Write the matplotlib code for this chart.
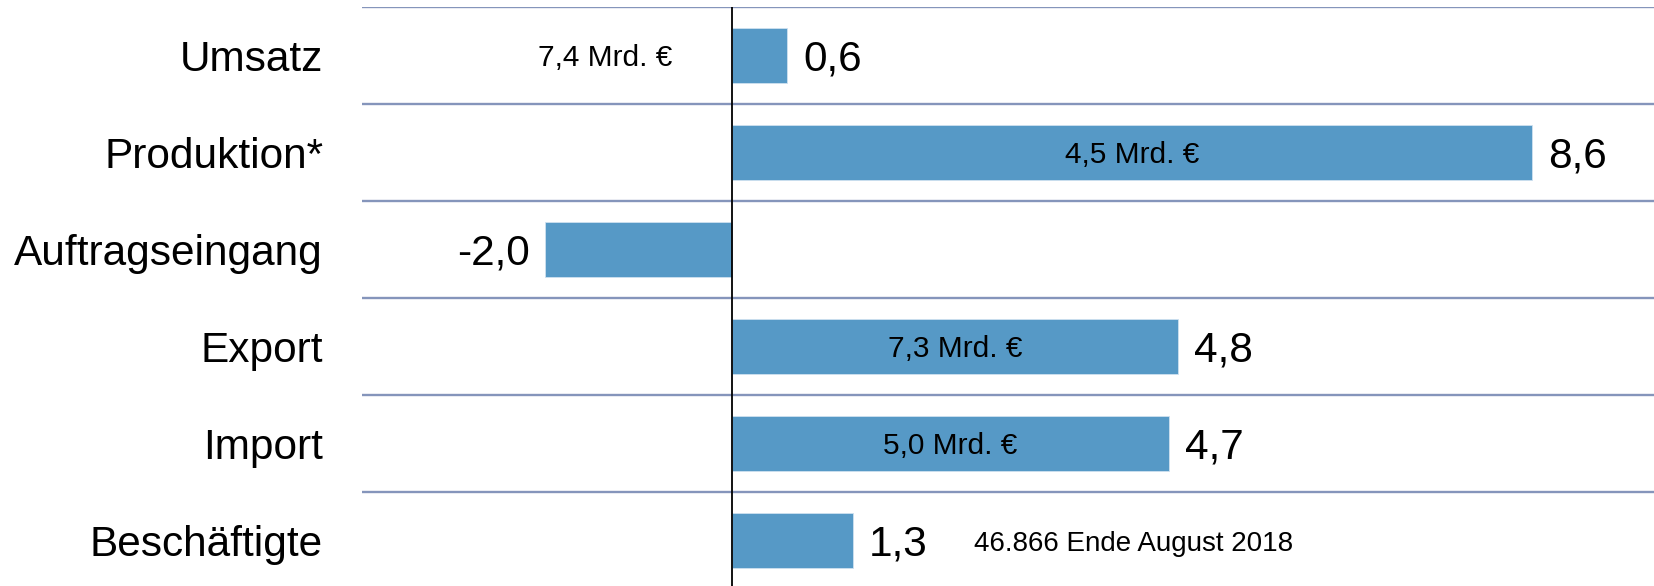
import matplotlib.pyplot as plt

plt.rcParams['font.family'] = ['Liberation Sans', 'DejaVu Sans']

# Veränderung in % gegenüber Vorjahr
categories = ['Umsatz', 'Produktion*', 'Auftragseingang', 'Export', 'Import', 'Beschäftigte']
values = [0.6, 8.6, -2.0, 4.8, 4.7, 1.3]
value_labels = ['0,6', '8,6', '-2,0', '4,8', '4,7', '1,3']
notes = ['7,4 Mrd. €', '4,5 Mrd. €', '', '7,3 Mrd. €', '5,0 Mrd. €', '46.866 Ende August 2018']

bar_color = '#5699C6'
grid_color = '#8595BB'

fig = plt.figure(figsize=(16.54, 5.86), dpi=100)
ax = fig.add_axes([362 / 1654, -3 / 586, 1292 / 1654, 582 / 586])

y = list(range(len(categories)))
ax.barh(y, values, height=0.565, color=bar_color, edgecolor='#cfe1f0', linewidth=0.6, zorder=2)

ax.set_xlim(-3.97, 9.91)
ax.set_ylim(len(categories) - 0.5, -0.5)

# Trennlinien zwischen den Zeilen
for b in range(len(categories) + 1):
    ax.axhline(b - 0.5, color=grid_color, linewidth=1.7, zorder=1)
ax.axvline(0, color='black', linewidth=1.3, zorder=3)

ax.set_yticks(y)
ax.set_yticklabels(categories, fontsize=30.5)
ax.tick_params(axis='y', length=0, pad=28)
ax.set_xticks([])
for s in ax.spines.values():
    s.set_visible(False)

# Werte an den Balkenenden
for i, (v, lab) in enumerate(zip(values, value_labels)):
    off = 11.5 if v >= 0 else -11.5
    ax.annotate(lab, (v, i), xytext=(off, -3), textcoords='offset points',
                ha='left' if v >= 0 else 'right', va='center', fontsize=30.5)

# Zusatzangaben
for i, (v, note) in enumerate(zip(values, notes)):
    if not note:
        continue
    if v > 3:
        ax.annotate(note, (v / 2, i), xytext=(0, -2), textcoords='offset points',
                    ha='center', va='center', fontsize=21.5)
    elif i == 0:
        ax.annotate(note, (-1.36, i), xytext=(0, -2), textcoords='offset points',
                    ha='center', va='center', fontsize=21.5)
    else:
        ax.annotate(note, (2.61, i), xytext=(0, -2.5), textcoords='offset points',
                    ha='left', va='center', fontsize=20)

fig.savefig('out.png', dpi=100)
